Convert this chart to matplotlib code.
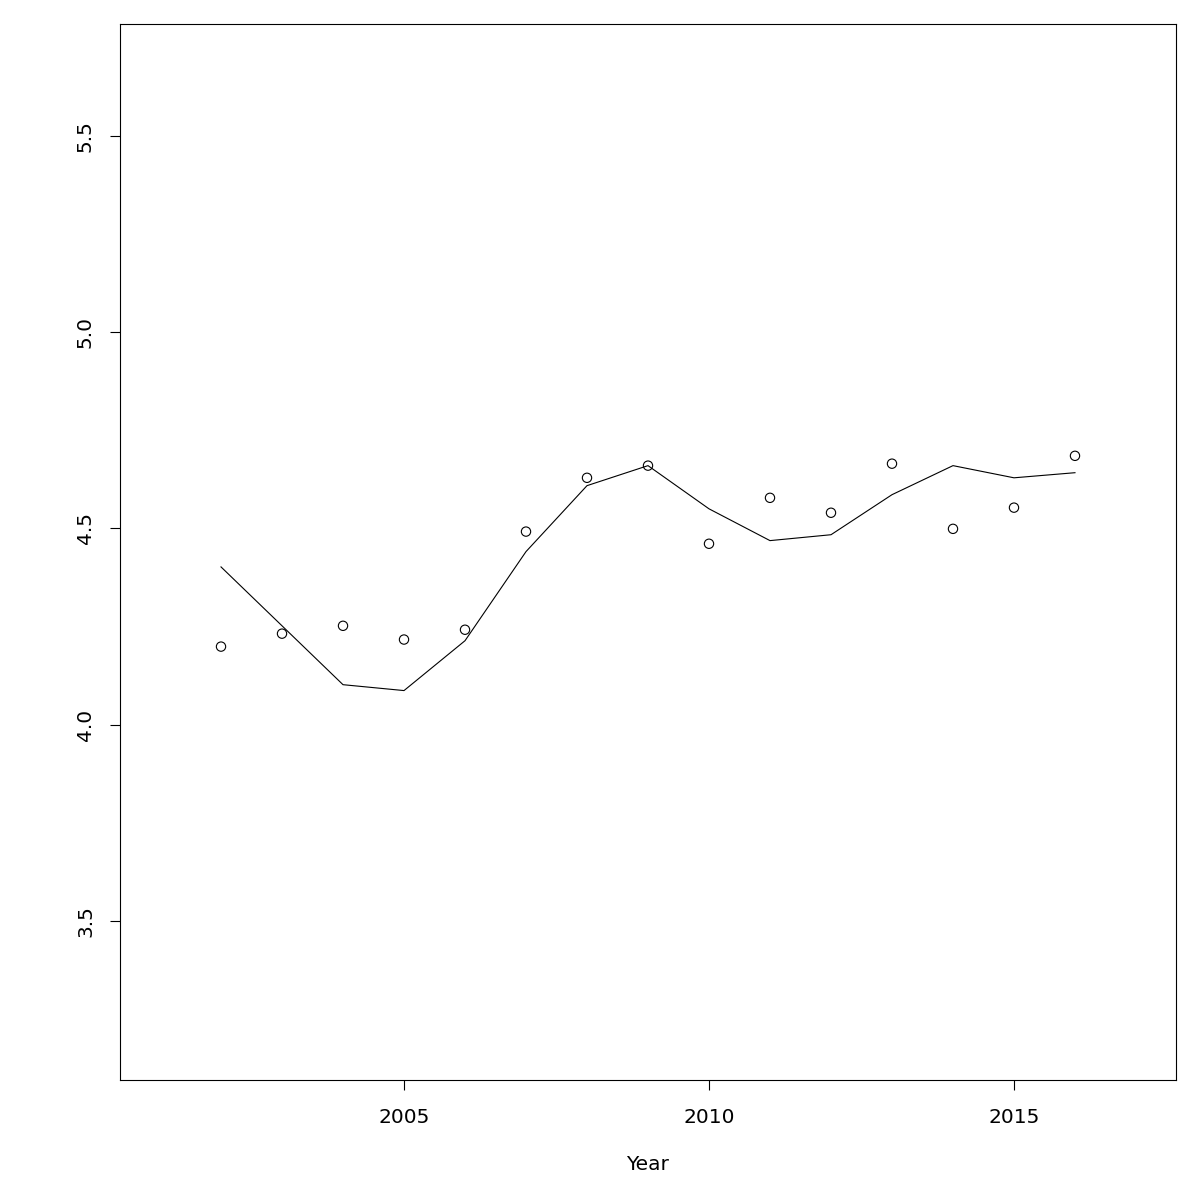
import matplotlib
matplotlib.use('Agg')
import matplotlib.pyplot as plt

# observed values and fitted line
years = [2002, 2003, 2004, 2005, 2006, 2007, 2008, 2009, 2010, 2011, 2012, 2013, 2014, 2015, 2016]
observed = [4.199, 4.232, 4.252, 4.217, 4.242, 4.492, 4.629, 4.660, 4.461, 4.578, 4.540, 4.665, 4.499, 4.553, 4.685]
fitted = [4.402, 4.252, 4.102, 4.087, 4.214, 4.441, 4.609, 4.660, 4.550, 4.469, 4.484, 4.586, 4.660, 4.629, 4.642]

x_ticks = [2005, 2010, 2015]
y_ticks = [3.5, 4.0, 4.5, 5.0, 5.5]

fig = plt.figure(figsize=(12, 12), dpi=100)
ax = fig.add_axes([0.1, 0.1, 0.88, 0.88])

ax.plot(years, fitted, color='black', linewidth=0.8)
ax.scatter(years, observed, s=45, facecolors='none', edgecolors='black', linewidths=0.8)

ax.set_xlim(2000.344, 2017.656)
ax.set_ylim(3.095, 5.785)
ax.set_xticks(x_ticks)
ax.set_yticks(y_ticks)
ax.set_yticklabels([f'{v:.1f}' for v in y_ticks], rotation=90, va='center')
ax.tick_params(direction='out', length=7, width=0.8, labelsize=14.5, pad=11)
ax.tick_params(axis='x', pad=13)
for s in ax.spines.values():
    s.set_linewidth(0.8)

ax.set_xlabel('Year', fontsize=14.5, labelpad=20)

fig.savefig('out.png', dpi=100)
